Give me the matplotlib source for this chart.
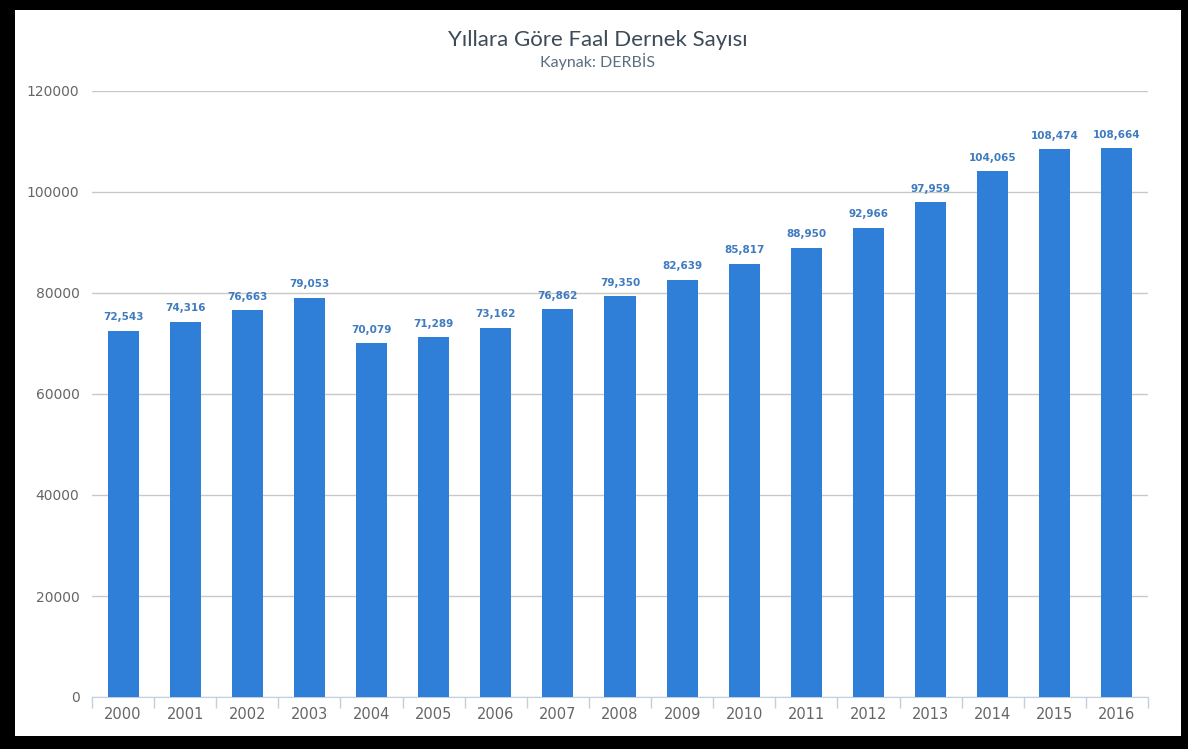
import matplotlib
matplotlib.use("Agg")
import matplotlib.pyplot as plt
from matplotlib.patches import Rectangle

years = ["2000", "2001", "2002", "2003", "2004", "2005", "2006", "2007", "2008",
         "2009", "2010", "2011", "2012", "2013", "2014", "2015", "2016"]
counts = [72543, 74316, 76663, 79053, 70079, 71289, 73162, 76862, 79350,
          82639, 85817, 88950, 92966, 97959, 104065, 108474, 108664]
yticks = [0, 20000, 40000, 60000, 80000, 100000, 120000]

W, H = 1188, 749
fig = plt.figure(figsize=(W / 100, H / 100), dpi=100)
fig.patch.set_facecolor("white")

# black frame
def frect(x0, y0, x1, y1):
    fig.patches.append(Rectangle((x0 / W, 1 - y1 / H), (x1 - x0) / W, (y1 - y0) / H,
                                 transform=fig.transFigure, facecolor="black",
                                 edgecolor="none", zorder=10))
frect(0, 0, W, 10)
frect(0, 0, 15, H)
frect(1181, 0, W, H)
frect(0, 736, W, H)

left, right, top, bottom = 92, 1148, 91, 697
ax = fig.add_axes([left / W, 1 - bottom / H, (right - left) / W, (bottom - top) / H])
x = list(range(len(years)))
ax.bar(x, counts, width=0.5, color="#2f7ed8", zorder=3)
ax.set_xlim(-0.5, len(years) - 0.5)
ax.set_ylim(0, 120000)
ax.set_yticks(yticks)
ax.set_yticklabels([str(v) for v in yticks], family="DejaVu Sans")
ax.set_xticks(x)
ax.set_xticklabels(years, family="DejaVu Sans")
ax.yaxis.grid(True, color="#c8c8c8", linewidth=1)
ax.set_axisbelow(True)
for s in ["top", "right", "left"]:
    ax.spines[s].set_visible(False)
ax.spines["bottom"].set_color("#c0d0e0")
ax.tick_params(axis="y", length=0, pad=9, labelcolor="#666666", labelsize=10)
ax.tick_params(axis="x", length=0, pad=7, labelcolor="#666666", labelsize=10.5)
ax.set_xticks([i - 0.5 for i in range(len(years) + 1)], minor=True)
ax.tick_params(axis="x", which="minor", length=8, color="#c0d0e0", width=1)

for xi, v in zip(x, counts):
    ax.annotate(f"{v:,}", (xi, v), xytext=(0, 6), textcoords="offset points",
                ha="center", va="bottom", fontsize=7.5, fontweight="bold",
                color="#3f7bbf", zorder=5)

fig.text(598 / W, 1 - 40 / H, "Yıllara Göre Faal Dernek Sayısı", ha="center",
         va="center", fontsize=16, color="#3d4a57", family="Lato")
fig.text(598 / W, 1 - 62 / H, "Kaynak: DERBİS", ha="center", va="center",
         fontsize=11.5, color="#5b6e80", family="Lato")

fig.savefig("out.png", dpi=100, facecolor="white")
